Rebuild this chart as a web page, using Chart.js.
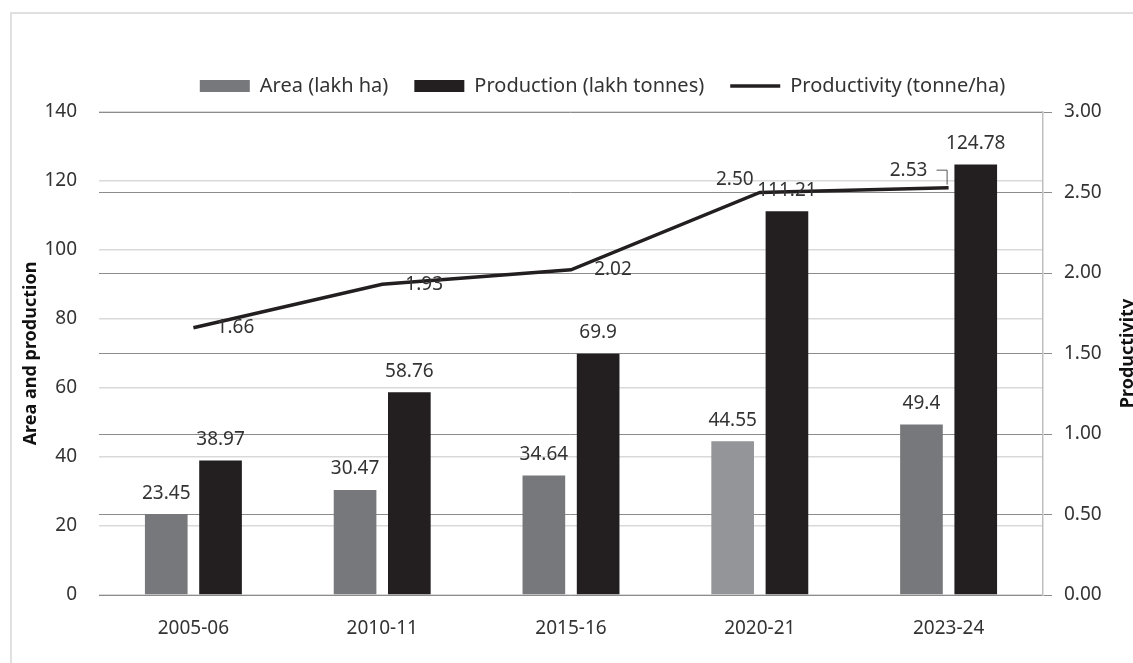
<!DOCTYPE html>
<html>
<head>
<meta charset="utf-8">
<script src="https://cdn.jsdelivr.net/npm/chart.js@4.4.1/dist/chart.umd.min.js"></script>
<style>
  html, body { margin: 0; padding: 0; background: #fff; overflow: hidden; }
  #frame { position: absolute; left: 10px; top: 12px; width: 1200px; height: 700px; border: 2px solid #e0e0e0; }
  #wrap { position: absolute; left: 0; top: 0; width: 1133px; height: 663px; }
</style>
</head>
<body>
<div id="frame"></div>
<div id="wrap"><canvas id="chart" width="1133" height="663"></canvas></div>
<script>
// Values
const years = ["2005-06", "2010-11", "2015-16", "2020-21", "2023-24"];
const area = [23.45, 30.47, 34.64, 44.55, 49.4];
const production = [38.97, 58.76, 69.9, 111.21, 124.78];
const productivity = [1.66, 1.93, 2.02, 2.50, 2.53];

const FONT = '"Noto Sans", sans-serif';
const TEXT = "#333333";

// value labels on bars and line points, plus the two axis titles
const labelsPlugin = {
    id: "labelsPlugin",
    afterLayout(chart) {
        // legend sits a bit right of centre and a little higher in the original
        chart.legend.left += 36;
        chart.legend.right += 36;
        chart.legend.top -= 6;
        chart.legend.bottom -= 6;
    },
    afterDatasetsDraw(chart) {
        const ctx = chart.ctx;
        ctx.save();
        ctx.font = "19px " + FONT;
        ctx.fillStyle = TEXT;
        ctx.textAlign = "center";
        ctx.textBaseline = "middle";
        [0, 1].forEach(di => {
            chart.getDatasetMeta(di).data.forEach((bar, i) => {
                ctx.fillText(String(chart.data.datasets[di].data[i]), bar.x, bar.y - 21);
            });
        });
        // productivity labels (Excel placed them by hand, roughly)
        const offs = [[42, 0], [42, 0], [42, 0], [-25, -13], [-40, -17]];
        chart.getDatasetMeta(2).data.forEach((pt, i) => {
            ctx.fillText(productivity[i].toFixed(2), pt.x + offs[i][0], pt.y + offs[i][1]);
        });
        // leader line for the last one
        const last = chart.getDatasetMeta(2).data[4];
        ctx.strokeStyle = "#555";
        ctx.lineWidth = 1;
        ctx.beginPath();
        ctx.moveTo(last.x - 12, last.y - 17.5);
        ctx.lineTo(last.x - 1.5, last.y - 17.5);
        ctx.lineTo(last.x - 1.5, last.y - 3);
        ctx.stroke();

        // axis titles
        const a = chart.chartArea;
        const midY = (a.top + a.bottom) / 2;
        ctx.font = "bold 18px " + FONT;
        ctx.fillStyle = "#111";
        ctx.save();
        ctx.translate(31, midY);
        ctx.rotate(-Math.PI / 2);
        ctx.fillText("Area and production", 0, 0);
        ctx.restore();
        ctx.save();
        ctx.translate(1128, midY);
        ctx.rotate(-Math.PI / 2);
        ctx.fillText("Productivity", 0, 0);
        ctx.restore();
        ctx.restore();
    }
};

new Chart(document.getElementById("chart"), {
    type: "bar",
    data: {
        labels: years,
        datasets: [
            {
                label: "Area (lakh ha)",
                data: area,
                backgroundColor: ["#77787b", "#77787b", "#77787b", "#939598", "#77787b"],
                yAxisID: "y",
                order: 2
            },
            {
                label: "Production (lakh tonnes)",
                data: production,
                backgroundColor: "#231f20",
                yAxisID: "y",
                order: 2
            },
            {
                type: "line",
                label: "Productivity (tonne/ha)",
                data: productivity,
                borderColor: "#231f20",
                backgroundColor: "#231f20",
                borderWidth: 3.5,
                pointRadius: 0,
                tension: 0,
                yAxisID: "y2",
                order: 1
            }
        ]
    },
    options: {
        responsive: false,
        animation: false,
        layout: { padding: { top: 56, left: 0, right: 0, bottom: 0 } },
        datasets: {
            bar: { categoryPercentage: 0.575, barPercentage: 0.786 }
        },
        plugins: {
            tooltip: { enabled: false },
            legend: {
                position: "top",
                labels: {
                    font: { family: FONT, size: 20 },
                    color: TEXT,
                    usePointStyle: true,
                    pointStyleWidth: 50,
                    boxHeight: 12,
                    padding: 26,
                    generateLabels(chart) {
                        return chart.data.datasets.map((ds, i) => ({
                            text: ds.label,
                            datasetIndex: i,
                            fillStyle: i === 0 ? "#77787b" : "#231f20",
                            strokeStyle: "#231f20",
                            lineWidth: i === 2 ? 3.5 : 0,
                            pointStyle: i === 2 ? "line" : "rect",
                            fontColor: TEXT
                        }));
                    }
                }
            }
        },
        scales: {
            x: {
                grid: { display: false },
                border: { display: false },
                ticks: { font: { family: FONT, size: 19 }, color: TEXT, padding: 14 },
                afterFit(s) { s.height = 68; }
            },
            y: {
                position: "left",
                min: 0,
                max: 140,
                ticks: { stepSize: 20, font: { family: FONT, size: 19 }, color: TEXT, padding: 22 },
                grid: { color: "#d9d9d9", lineWidth: 1.5, drawTicks: false },
                border: { display: false },
                afterFit(s) { s.width = 99; }
            },
            y2: {
                position: "right",
                min: 0,
                max: 3,
                ticks: {
                    stepSize: 0.5,
                    font: { family: FONT, size: 19 },
                    color: TEXT,
                    padding: 12,
                    callback: v => v.toFixed(2)
                },
                grid: { color: "#8c8c8c", lineWidth: 1, tickLength: 9, tickColor: "#8c8c8c" },
                border: { color: "#bfbfbf", width: 1.5 },
                afterFit(s) { s.width = 90; }
            }
        }
    },
    plugins: [labelsPlugin]
});
</script>
</body>
</html>
